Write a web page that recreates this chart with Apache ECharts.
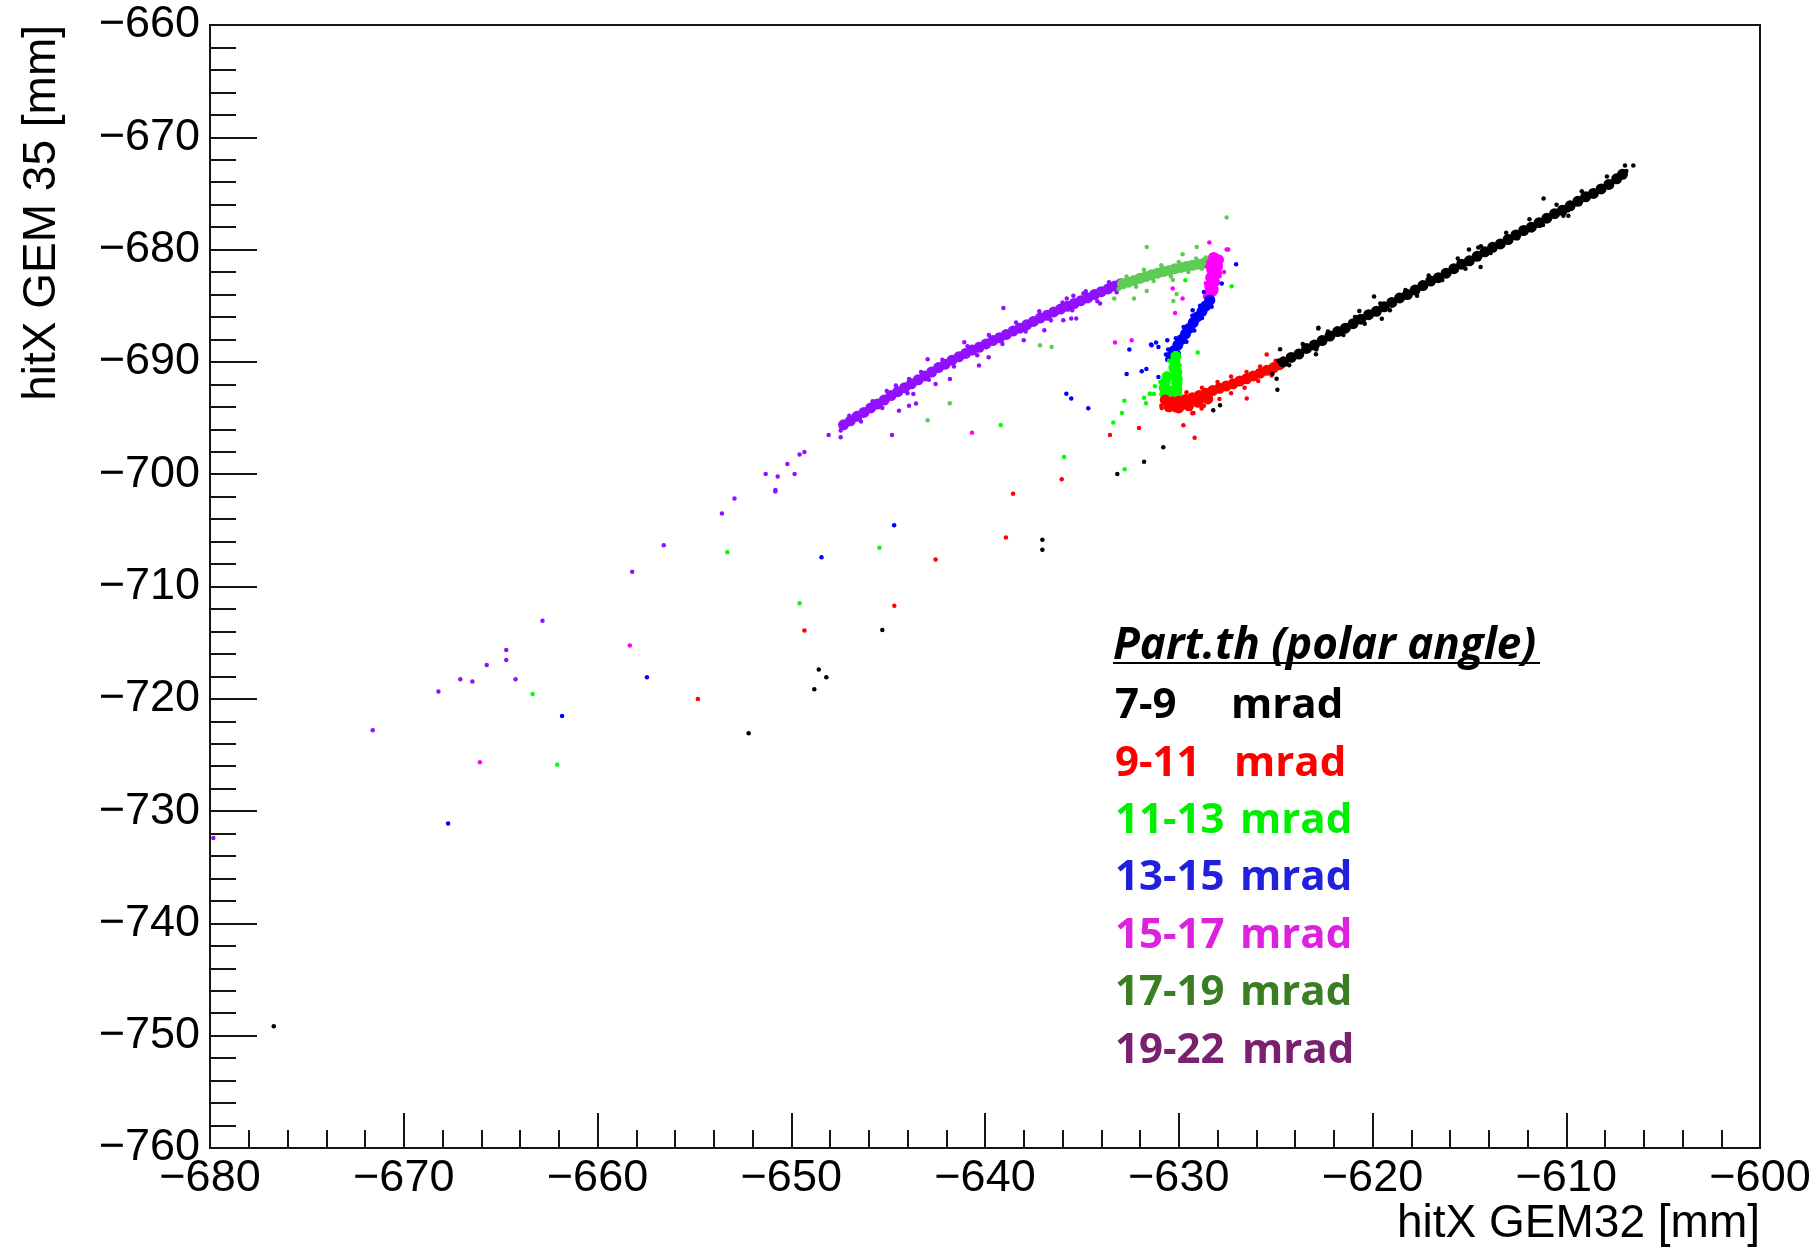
<!DOCTYPE html>
<html>
<head>
<meta charset="utf-8">
<script src="https://cdn.jsdelivr.net/npm/echarts@6/dist/echarts.min.js"></script>
<style>
  html, body { margin: 0; padding: 0; background: #ffffff; }
  #chart { width: 1819px; height: 1250px; }
</style>
</head>
<body>
<div id="chart"></div>
<script>
// ---- axis ranges (mm) ----
const xRange = [-680, -600];
const yRange = [-760, -660];
const tickStep = 10;

// ---- polar-angle bins ----
const binLabels = ['7-9', '9-11', '11-13', '13-15', '15-17', '17-19', '19-22'];
const markerColors = ['#000000', '#ff0000', '#00ff00', '#0000ff', '#ff00ff', '#5ecb55', '#9010ff'];
const textColors = ['#000000', '#ff0000', '#00ee00', '#2020dd', '#dd22dd', '#3a7d22', '#7a2070'];

// ---- hits: [hitX GEM32, hitX GEM35] in mm ----
// dense core of each band
const band7_9 = [
  [-624.6,-690.0],[-624.2,-689.6],[-623.8,-689.3],[-623.4,-688.8],[-623.0,-688.5],[-622.6,-688.1],
  [-622.2,-687.7],[-621.8,-687.3],[-621.4,-687.0],[-621.0,-686.6],[-620.6,-686.2],[-620.2,-685.8],
  [-619.8,-685.5],[-619.4,-685.1],[-619.0,-684.7],[-618.6,-684.3],[-618.2,-684.0],[-617.8,-683.6],
  [-617.4,-683.2],[-617.0,-682.8],[-616.6,-682.5],[-616.2,-682.1],[-615.8,-681.7],[-615.4,-681.3],
  [-615.0,-681.0],[-614.6,-680.6],[-614.2,-680.2],[-613.8,-679.8],[-613.4,-679.5],[-613.0,-679.1],
  [-612.6,-678.7],[-612.2,-678.3],[-611.8,-678.0],[-611.4,-677.6],[-611.0,-677.2],[-610.6,-676.8],
  [-610.2,-676.5],[-609.8,-676.1],[-609.4,-675.7],[-609.0,-675.3],[-608.6,-675.0],[-608.2,-674.6],
  [-607.8,-674.2],[-607.4,-673.7],[-607.1,-673.3]
];
const hits7_9 = [
  [-624.3,-690.3],[-623.6,-688.4],[-622.9,-688.9],[-622.3,-687.3],[-621.5,-687.6],[-620.9,-686.0],
  [-620.4,-686.6],[-619.6,-684.8],[-619.1,-685.4],[-618.3,-683.6],[-617.7,-684.1],[-617.1,-682.3],
  [-616.4,-682.7],[-615.6,-680.8],[-615.2,-681.7],[-614.4,-679.7],[-613.9,-680.3],[-613.1,-678.5],
  [-612.5,-679.0],[-611.9,-677.3],[-611.2,-677.8],[-610.5,-676.0],[-609.9,-676.5],[-609.2,-674.8],
  [-608.5,-675.2],[-607.9,-673.5],[-607.3,-673.9],[-606.9,-673.0],[-606.97,-672.5],[-606.54,-672.5],
  [-611.17,-675.45],[-619.92,-684.17],[-622.79,-686.95],[-620.68,-685.47],[-615.02,-680.0],
  [-614.54,-679.82],[-614.42,-681.54],[-610.15,-676.99],[-609.89,-676.99],[-619.52,-686.15],
  [-622.92,-689.32],[-624.86,-689.9],[-624.91,-692.47],[-624.77,-688.88],[-622.8,-687.03],
  [-624.95,-691.49],[-625.16,-691.05],[-627.87,-693.87],[-628.22,-694.31],[-630.8,-697.61],
  [-631.79,-698.89],[-633.17,-699.99],[-637.04,-705.84],[-637.04,-706.73],[-645.3,-713.87],
  [-648.58,-717.4],[-648.19,-718.07],[-648.81,-719.14],[-652.2,-723.06],[-676.71,-749.15]
];

const band9_11 = [
  [-630.7,-693.4],[-630.35,-693.55],[-630.0,-693.5],[-629.65,-693.35],[-629.3,-693.2],[-628.95,-693.0],
  [-628.6,-692.8],[-628.25,-692.55],[-627.9,-692.35],[-627.55,-692.15],[-627.2,-691.95],[-626.85,-691.7],
  [-626.5,-691.5],[-626.15,-691.25],[-625.8,-691.0],[-625.45,-690.75],[-625.1,-690.5],[-624.8,-690.25],
  [-630.5,-694.0],[-630.0,-694.1],[-629.5,-693.9],[-629.0,-693.6],[-628.5,-693.3]
];
const hits9_11 = [
  [-630.9,-693.9],[-630.2,-694.3],[-629.4,-694.2],[-628.7,-693.9],[-627.9,-693.3],[-627.3,-692.8],
  [-626.6,-692.3],[-625.9,-691.7],[-625.2,-691.2],[-629.6,-692.7],[-628.8,-692.3],[-628.0,-691.8],
  [-627.3,-691.3],[-626.5,-690.9],[-625.8,-690.4],[-625.0,-689.9],[-624.6,-689.7],
  [-630.88,-694.11],[-629.76,-695.65],[-629.24,-694.55],[-628.82,-694.16],[-626.49,-693.27],
  [-625.46,-689.33],[-629.18,-696.75],[-629.3,-694.58],[-632.05,-695.89],[-633.55,-696.51],
  [-636.04,-700.44],[-638.55,-701.74],[-638.92,-705.63],[-642.55,-707.59],[-644.68,-711.72],
  [-649.32,-713.91],[-654.82,-720.02]
];

const band11_13 = [
  [-630.15,-689.5],[-630.2,-690.0],[-630.25,-690.5],[-630.1,-690.9],[-630.6,-691.3],[-630.1,-691.4],
  [-630.7,-691.8],[-630.1,-691.9],[-630.75,-692.3],[-630.1,-692.4],[-630.7,-692.8],[-630.1,-692.85],
  [-630.4,-692.6]
];
const hits11_13 = [
  [-630.9,-692.9],[-630.95,-691.8],[-629.9,-691.6],[-629.95,-692.6],[-630.5,-689.9],[-629.95,-690.3],
  [-631.48,-692.83],[-629.02,-689.17],[-627.27,-683.26],[-629.66,-682.73],[-632.81,-693.45],
  [-631.79,-693.2],[-631.5,-692.83],[-631.23,-692.17],[-633.38,-695.4],[-632.93,-694.55],
  [-631.69,-693.69],[-631.28,-692.86],[-632.79,-699.57],[-635.92,-698.47],[-639.19,-695.62],
  [-653.3,-706.95],[-645.45,-706.54],[-649.57,-711.5],[-663.35,-719.57],[-662.08,-725.87]
];

const band13_15 = [
  [-628.4,-684.5],[-628.6,-685.0],[-628.8,-685.5],[-629.05,-686.0],[-629.25,-686.5],[-629.45,-687.0],
  [-629.65,-687.5],[-629.85,-688.0],[-630.05,-688.5],[-630.25,-689.0],[-630.4,-689.5]
];
const hits13_15 = [
  [-628.3,-685.1],[-628.9,-685.0],[-628.8,-686.1],[-629.3,-685.9],[-629.2,-687.2],[-629.75,-686.9],
  [-629.6,-688.2],[-630.15,-687.9],[-630.0,-689.2],[-630.55,-688.9],[-630.6,-689.8],
  [-627.04,-681.3],[-628.7,-683.77],[-629.28,-685.4],[-631.4,-688.52],[-630.59,-688.07],
  [-630.66,-689.33],[-631.05,-691.35],[-627.78,-683.02],[-631.43,-688.46],[-631.17,-688.28],
  [-631.05,-688.67],[-632.55,-688.9],[-632.69,-691.07],[-631.91,-690.84],[-631.67,-690.63],
  [-635.8,-692.83],[-635.55,-693.27],[-634.67,-694.13],[-644.69,-704.55],[-648.44,-707.4],
  [-657.45,-718.07],[-661.83,-721.54],[-667.71,-731.1]
];

const band15_17 = [
  [-628.2,-680.7],[-627.95,-680.9],[-628.3,-681.2],[-628.0,-681.5],[-628.3,-681.8],[-628.05,-682.1],
  [-628.35,-682.5],[-628.15,-682.9],[-628.4,-683.3],[-628.25,-683.7],[-628.45,-684.1],[-628.4,-684.5]
];
const hits15_17 = [
  [-627.85,-681.3],[-628.55,-681.5],[-627.9,-682.4],[-628.6,-683.0],[-628.05,-683.5],[-628.65,-684.2],
  [-628.55,-684.9],[-628.1,-680.5],
  [-628.42,-679.37],[-627.53,-679.99],[-627.45,-679.99],[-627.66,-681.99],[-630.31,-683.47],
  [-629.8,-684.36],[-630.19,-685.64],[-633.29,-688.28],[-632.43,-688.07],[-640.67,-696.3],
  [-658.33,-715.25],[-666.07,-725.66]
];

const band17_19 = [
  [-632.9,-683.05],[-632.6,-682.9],[-632.3,-682.75],[-632.0,-682.55],[-631.7,-682.4],[-631.4,-682.25],
  [-631.1,-682.1],[-630.8,-681.95],[-630.5,-681.85],[-630.2,-681.7],[-629.9,-681.6],[-629.6,-681.5],
  [-629.3,-681.4],[-629.0,-681.3],[-628.7,-681.2],[-628.5,-681.1]
];
const hits17_19 = [
  [-632.7,-682.4],[-632.2,-683.3],[-631.8,-681.8],[-631.3,-682.8],[-630.9,-681.4],[-630.4,-682.4],
  [-630.0,-681.1],[-629.5,-682.0],[-629.1,-680.8],[-628.8,-681.7],[-628.6,-680.7],[-633.1,-683.5],
  [-627.53,-677.14],[-629.07,-679.76],[-629.8,-680.41],[-631.65,-679.76],[-630.3,-682.7],
  [-630.11,-683.96],[-630.28,-684.57],[-631.65,-683.68],[-632.31,-684.36],[-633.33,-684.36],
  [-637.16,-688.52],[-636.56,-688.67],[-641.82,-693.69],[-642.96,-695.2]
];

const band19_22 = [
  [-647.3,-695.6],[-646.95,-695.25],[-646.6,-694.85],[-646.25,-694.5],[-645.9,-694.1],[-645.55,-693.75],
  [-645.2,-693.4],[-644.85,-693.0],[-644.5,-692.65],[-644.15,-692.3],[-643.8,-691.95],[-643.45,-691.6],
  [-643.1,-691.25],[-642.75,-690.9],[-642.4,-690.5],[-642.05,-690.2],[-641.7,-689.85],[-641.35,-689.55],
  [-641.0,-689.25],[-640.65,-688.95],[-640.3,-688.7],[-639.95,-688.4],[-639.6,-688.1],[-639.25,-687.85],
  [-638.9,-687.55],[-638.55,-687.25],[-638.2,-687.0],[-637.85,-686.7],[-637.5,-686.4],[-637.15,-686.1],
  [-636.8,-685.85],[-636.45,-685.55],[-636.1,-685.3],[-635.75,-685.05],[-635.4,-684.8],[-635.05,-684.55],
  [-634.7,-684.3],[-634.35,-684.0],[-634.0,-683.75],[-633.65,-683.5],[-633.3,-683.25],[-633.0,-683.05]
];
const hits19_22 = [
  [-647.0,-694.8],[-646.4,-695.3],[-645.8,-693.5],[-645.3,-694.1],[-644.6,-692.1],[-644.0,-692.8],
  [-643.3,-690.9],[-642.9,-691.6],[-642.2,-689.8],[-641.6,-690.4],[-640.9,-688.6],[-640.4,-689.4],
  [-639.8,-687.6],[-639.1,-688.4],[-638.4,-686.5],[-637.9,-687.3],[-637.2,-685.5],[-636.6,-686.3],
  [-636.0,-684.7],[-635.5,-685.4],[-634.8,-683.7],[-634.2,-684.6],[-633.6,-682.9],[-633.2,-683.8],
  [-639.05,-685.2],[-641.07,-688.25],[-642.96,-689.77],[-643.92,-691.52],[-641.81,-691.52],
  [-642.55,-691.97],[-643.7,-692.86],[-640.31,-690.33],[-639.81,-689.59],[-638.0,-688.07],
  [-636.94,-687.18],[-635.96,-686.29],[-635.55,-686.14],[-635.29,-686.14],[-635.78,-684.36],
  [-635.44,-684.12],[-634.92,-683.91],[-634.06,-684.81],
  [-645.07,-692.6],[-644.44,-694.35],[-643.92,-693.9],[-643.56,-693.7],[-644.8,-696.5],
  [-648.07,-696.5],[-647.45,-696.1],[-647.45,-696.7],[-649.57,-698.24],[-649.32,-698.02],
  [-650.2,-699.1],[-651.32,-699.98],[-650.7,-700.2],[-649.83,-699.98],[-650.82,-701.4],
  [-650.82,-701.55],[-652.93,-702.17],[-653.58,-703.5],[-656.58,-706.32],[-658.21,-708.69],
  [-662.84,-713.06],[-664.71,-715.65],[-664.71,-716.54],[-665.72,-716.98],[-667.08,-718.25],
  [-666.46,-718.47],[-664.23,-718.25],[-668.21,-719.35],[-671.6,-722.8],[-679.83,-732.4]
];

const bands = [band7_9, band9_11, band11_13, band13_15, band15_17, band17_19, band19_22];
const hits = [hits7_9, hits9_11, hits11_13, hits13_15, hits15_17, hits17_19, hits19_22];

// ---- chart ----
const chart = echarts.init(document.getElementById('chart'), null, { renderer: 'canvas' });

const minusFmt = v => String(v).replace('-', '\u2212');
const axisColor = '#151515';
const labelFont = 'Liberation Sans';

const series = [];
// wide-angle bins first so narrower bins sit on top where bands meet
for (let i = binLabels.length - 1; i >= 0; i--) {
  series.push({
    name: binLabels[i] + ' band', type: 'scatter', data: bands[i],
    symbol: 'circle', symbolSize: 11, itemStyle: { color: markerColors[i], opacity: 1 },
    silent: true, z: 2
  });
  series.push({
    name: binLabels[i] + ' hits', type: 'scatter', data: hits[i],
    symbol: 'circle', symbolSize: 4.5, itemStyle: { color: markerColors[i], opacity: 1 },
    silent: true, z: 2
  });
}

// legend-like annotation block
const legendX = 1113;
const mradX = [1231, 1234, 1240, 1240, 1240, 1240, 1242];
const rowMid = [706, 764, 821, 878, 936, 993, 1051];
const graphics = [
  { type: 'text', x: 42, y: 25, rotation: Math.PI / 2,
    style: { text: 'hitX GEM 35 [mm]', font: '46px "Liberation Sans"', fill: '#000', align: 'right', verticalAlign: 'middle' } },
  { type: 'text', x: 1760, y: 1224,
    style: { text: 'hitX GEM32 [mm]', font: '46px "Liberation Sans"', fill: '#000', align: 'right', verticalAlign: 'middle' } },
  { type: 'text', x: legendX, y: 646,
    style: { text: 'Part.th (polar angle)', font: 'italic bold 44px "Open Sans"', fill: '#000', align: 'left', verticalAlign: 'middle' } },
  { type: 'line', shape: { x1: legendX, y1: 663, x2: 1540, y2: 663 }, style: { stroke: '#000', lineWidth: 2 } }
];
binLabels.forEach((lab, i) => {
  graphics.push({ type: 'text', x: legendX + 2, y: rowMid[i],
    style: { text: lab, font: 'bold 42px "Open Sans"', fill: textColors[i], align: 'left', verticalAlign: 'middle' } });
  graphics.push({ type: 'text', x: mradX[i], y: rowMid[i],
    style: { text: 'mrad', font: 'bold 42px "Open Sans"', fill: textColors[i], align: 'left', verticalAlign: 'middle' } });
});

chart.setOption({
  animation: false,
  backgroundColor: '#ffffff',
  grid: {
    left: 210, right: 59, top: 25, bottom: 102,
    show: true, borderColor: axisColor, borderWidth: 2, backgroundColor: 'transparent',
    containLabel: false, outerBoundsMode: 'none'
  },
  xAxis: {
    type: 'value', min: xRange[0], max: xRange[1], interval: tickStep,
    axisLine: { show: true, onZero: false, lineStyle: { color: axisColor, width: 2 } },
    axisTick: { show: true, inside: true, length: 35, lineStyle: { color: axisColor, width: 2 } },
    minorTick: { show: true, splitNumber: 5, length: 18, lineStyle: { color: axisColor, width: 2 } },
    splitLine: { show: false },
    axisLabel: { show: true, margin: 8, color: '#000', fontSize: 45, fontFamily: labelFont, formatter: minusFmt }
  },
  yAxis: {
    type: 'value', min: yRange[0], max: yRange[1], interval: tickStep,
    axisLine: { show: true, onZero: false, lineStyle: { color: axisColor, width: 2 } },
    axisTick: { show: true, inside: true, length: 47, lineStyle: { color: axisColor, width: 2 } },
    minorTick: { show: true, splitNumber: 5, length: 26, lineStyle: { color: axisColor, width: 2 } },
    splitLine: { show: false },
    axisLabel: { show: true, margin: 10, color: '#000', fontSize: 45, fontFamily: labelFont, formatter: minusFmt }
  },
  series: series,
  graphic: graphics
});
</script>
</body>
</html>
